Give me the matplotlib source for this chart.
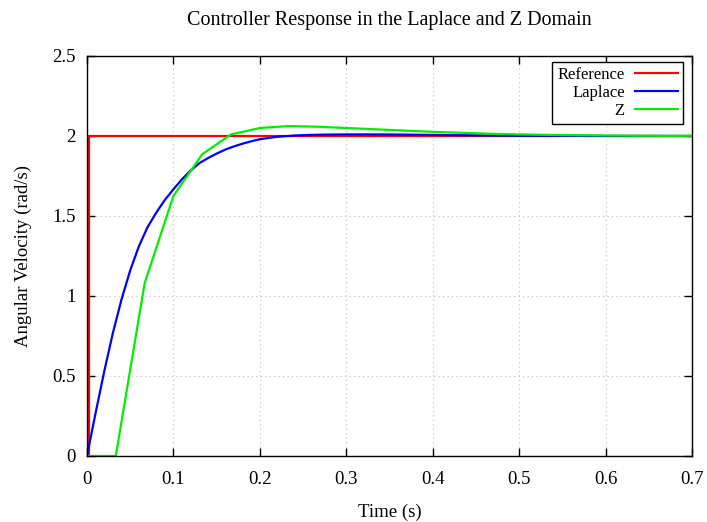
import numpy as np
import matplotlib
matplotlib.use("Agg")
import matplotlib.pyplot as plt
from matplotlib.ticker import FuncFormatter

plt.rcParams['font.family'] = ['Liberation Serif', 'DejaVu Serif']

# reference step
ref_t = [0.0, 0.002, 0.002, 0.7]
ref_y = [0.0, 0.0, 2.0, 2.0]

# continuous (Laplace) response
lap_t = [0, 0.01, 0.02, 0.03, 0.04, 0.05, 0.06, 0.07, 0.08, 0.09, 0.10,
         0.11, 0.12, 0.13, 0.14, 0.15, 0.16, 0.17, 0.18, 0.19, 0.20,
         0.22, 0.24, 0.26, 0.28, 0.30, 0.33, 0.36, 0.40, 0.45, 0.50,
         0.55, 0.60, 0.65, 0.70]
lap_y = [0, 0.27, 0.53, 0.77, 0.98, 1.16, 1.31, 1.43, 1.52, 1.60, 1.667,
         1.73, 1.785, 1.83, 1.862, 1.89, 1.915, 1.935, 1.952, 1.967, 1.98,
         1.995, 2.003, 2.007, 2.009, 2.01, 2.01, 2.009, 2.007, 2.004, 2.002,
         2.001, 2.0, 2.0, 2.0]

# discrete (Z) response, sampled at 1/30 s
z_t = [0, 0.0333, 0.0667, 0.1, 0.1333, 0.1667, 0.2, 0.2333, 0.2667, 0.3,
       0.3333, 0.3667, 0.4, 0.4333, 0.4667, 0.5, 0.5333, 0.5667, 0.6,
       0.6333, 0.6667, 0.7]
z_y = [0, 0, 1.08, 1.625, 1.886, 2.01, 2.05, 2.062, 2.058, 2.05,
       2.042, 2.034, 2.026, 2.02, 2.014, 2.01, 2.007, 2.005, 2.003,
       2.002, 2.001, 2.001]

x_ticks = [0, 0.1, 0.2, 0.3, 0.4, 0.5, 0.6, 0.7]
y_ticks = [0, 0.5, 1, 1.5, 2, 2.5]

fig = plt.figure(figsize=(7.07, 5.22), dpi=100)
ax = fig.add_axes([87/707, 1-456/522, 605/707, 400/522])

ax.plot(ref_t, ref_y, color='#ff0000', lw=1.6, label='Reference')
ax.plot(lap_t, lap_y, color='#0000ff', lw=1.6, label='Laplace')
ax.plot(z_t, z_y, color='#00ee00', lw=1.6, label='Z')

ax.set_xlim(0, 0.7)
ax.set_ylim(0, 2.5)
ax.set_xticks(x_ticks)
ax.set_yticks(y_ticks)
fmt = FuncFormatter(lambda v, p: '%g' % v)
ax.xaxis.set_major_formatter(fmt)
ax.yaxis.set_major_formatter(fmt)
ax.tick_params(direction='in', length=6, width=1, top=True, right=True,
               labelsize=13.5)
ax.tick_params(axis='x', pad=11)
ax.tick_params(axis='y', pad=8)
ax.grid(True, color='#c0c0c0', linestyle=(0, (1, 3)), linewidth=0.8)
for s in ax.spines.values():
    s.set_linewidth(1)

ax.set_xlabel('Time (s)', fontsize=13.5, labelpad=11)
ax.set_ylabel('Angular Velocity (rad/s)', fontsize=13.5, labelpad=15)
ax.set_title('Controller Response in the Laplace and Z Domain', fontsize=14.5, pad=22)

leg = ax.legend(loc='upper right', bbox_to_anchor=(1 - 9/605, 1 - 6/400),
                fontsize=12, markerfirst=False,
                fancybox=False, framealpha=1, edgecolor='black',
                handlelength=2.6, borderaxespad=0, labelspacing=0.12,
                borderpad=0.3, handletextpad=0.6)
leg.get_frame().set_linewidth(1)
for t in leg.get_texts():
    t.set_ha('right')
vp = leg._legend_box.get_children()[1]
vp.align = 'right'

fig.savefig('out.png', dpi=100)
